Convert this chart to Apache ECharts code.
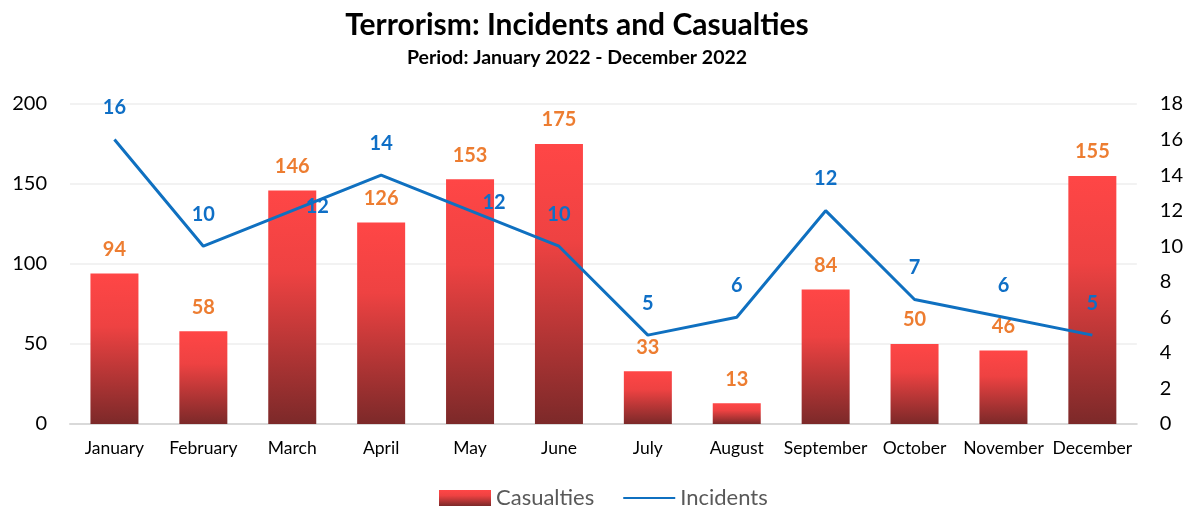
<!DOCTYPE html>
<html>
<head>
<meta charset="utf-8">
<script src="https://cdn.jsdelivr.net/npm/echarts@6/dist/echarts.min.js"></script>
<style>
  html, body { margin: 0; padding: 0; background: #ffffff; }
  #chart { width: 1186px; height: 506px; }
</style>
</head>
<body>
<div id="chart"></div>
<script>
// Monthly terrorism figures for 2022
const months = ['January', 'February', 'March', 'April', 'May', 'June',
                'July', 'August', 'September', 'October', 'November', 'December'];
const casualties = [94, 58, 146, 126, 153, 175, 33, 13, 84, 50, 46, 155];
const incidents = [16, 10, 12, 14, 12, 10, 5, 6, 12, 7, 6, 5];
const leftTicks = { min: 0, max: 200, interval: 50 };
const rightTicks = { min: 0, max: 18, interval: 2 };

const FONT = 'Lato, "Open Sans", sans-serif';
const BLUE = '#0F70C0';

// Incident labels sit above the point, except where they would collide with a bar label
const sideLabelOffsets = { March: [25, -4], May: [24, -8] };
const incidentLabelData = incidents.map((v, i) => {
  const off = sideLabelOffsets[months[i]];
  if (off) {
    return { value: v, label: { position: 'inside', offset: off } };
  }
  return v;
});

const barGradient = new echarts.graphic.LinearGradient(0, 0, 0, 1, [
  { offset: 0, color: '#FF4646' },
  { offset: 0.35, color: '#EE4242' },
  { offset: 1, color: '#7C2929' }
]);

const chart = echarts.init(document.getElementById('chart'), null, { renderer: 'canvas' });
chart.setOption({
  animation: false,
  textStyle: { fontFamily: FONT },
  title: {
    text: 'Terrorism: Incidents and Casualties',
    subtext: 'Period: January 2022 - December 2022',
    left: 572,
    textAlign: 'center',
    top: 5,
    itemGap: 8,
    textStyle: { fontFamily: FONT, fontSize: 30, fontWeight: 'bold', color: '#000000' },
    subtextStyle: { fontFamily: FONT, fontSize: 19.5, fontWeight: 'bold', color: '#000000' }
  },
  grid: { left: 70, right: 47, top: 104, bottom: 82, containLabel: false },
  legend: {
    left: 434,
    top: 482,
    itemWidth: 52,
    itemHeight: 16,
    itemGap: 28,
    textStyle: { fontFamily: FONT, fontSize: 22, color: '#595959' },
    data: [
      { name: 'Casualties', icon: 'rect' },
      { name: 'Incidents', itemStyle: { color: 'rgba(0,0,0,0)', borderWidth: 0, opacity: 0 } }
    ]
  },
  xAxis: {
    type: 'category',
    data: months,
    axisTick: { show: false },
    axisLine: { lineStyle: { color: '#D9D9D9', width: 2 } },
    axisLabel: { fontFamily: FONT, fontSize: 17.5, color: '#000000', margin: 15, interval: 0 }
  },
  yAxis: [
    {
      type: 'value',
      min: leftTicks.min, max: leftTicks.max, interval: leftTicks.interval,
      axisLine: { show: false },
      axisTick: { show: false },
      axisLabel: { fontFamily: FONT, fontSize: 20, color: '#000000', margin: 23 },
      splitLine: { lineStyle: { color: '#F2F2F2', width: 2 } }
    },
    {
      type: 'value',
      min: rightTicks.min, max: rightTicks.max, interval: rightTicks.interval,
      position: 'right',
      axisLine: { show: false },
      axisTick: { show: false },
      axisLabel: { fontFamily: FONT, fontSize: 20, color: '#000000', margin: 23 },
      splitLine: { show: false }
    }
  ],
  series: [
    {
      name: 'Casualties',
      type: 'bar',
      yAxisIndex: 0,
      data: casualties,
      barWidth: 48,
      itemStyle: { color: barGradient },
      label: {
        show: true,
        position: 'top',
        distance: 14,
        fontFamily: FONT,
        fontSize: 20,
        fontWeight: 'bold',
        color: '#ED7D31'
      },
      z: 2
    },
    {
      name: 'Incidents',
      type: 'line',
      yAxisIndex: 1,
      data: incidents,
      symbol: 'none',
      lineStyle: { color: BLUE, width: 3 },
      itemStyle: { color: BLUE },
      z: 3
    },
    {
      // value labels for the incidents line (invisible markers carry the text)
      name: 'Incidents labels',
      type: 'scatter',
      yAxisIndex: 1,
      data: incidentLabelData,
      symbolSize: 0,
      silent: true,
      itemStyle: { color: BLUE, opacity: 1 },
      label: {
        show: true,
        position: 'top',
        distance: 22,
        fontFamily: FONT,
        fontSize: 20,
        fontWeight: 'bold',
        color: '#0F6FC6'
      },
      z: 4
    }
  ]
});
</script>
</body>
</html>
